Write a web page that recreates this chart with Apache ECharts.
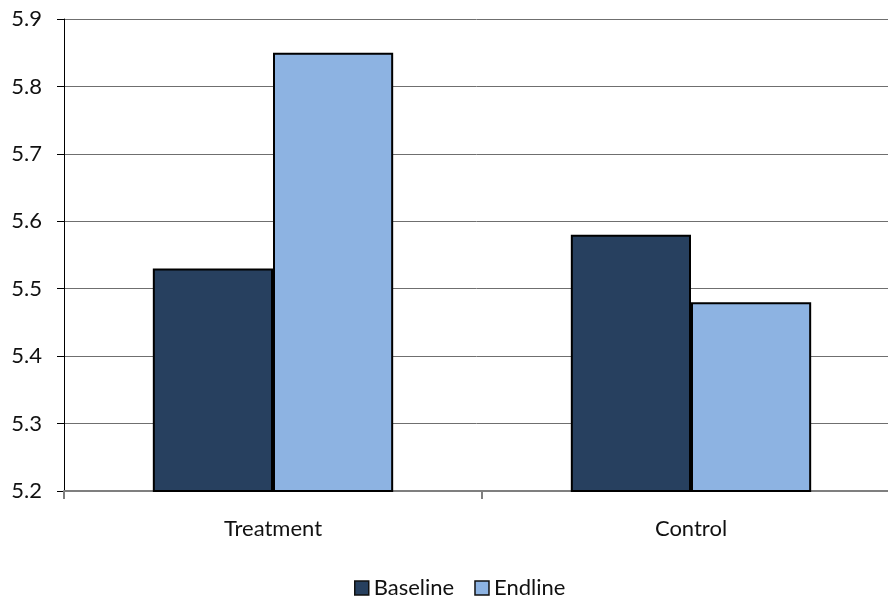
<!DOCTYPE html>
<html>
<head>
<meta charset="utf-8">
<script src="https://cdn.jsdelivr.net/npm/echarts@6/dist/echarts.min.js"></script>
<style>
  html, body { margin: 0; padding: 0; background: #fff; }
  #chart { width: 888px; height: 604px; }
</style>
</head>
<body>
<div id="chart"></div>
<script>
// Group means at baseline and endline
const categories = ['Treatment', 'Control'];
const seriesNames = ['Baseline', 'Endline'];
const baselineValues = [5.53, 5.58];
const endlineValues = [5.85, 5.48];
const yTicks = { min: 5.2, max: 5.9, step: 0.1 };

const fontFamily = 'Lato, "Open Sans", sans-serif';
const colors = ['#27405f', '#8db3e2'];

const chart = echarts.init(document.getElementById('chart'), null, { renderer: 'canvas' });

chart.setOption({
  animation: false,
  backgroundColor: '#ffffff',
  textStyle: { fontFamily: fontFamily },
  // plot area runs slightly past the right edge of the canvas
  grid: {
    left: 64, top: 19, width: 836, bottom: 113,
    containLabel: false,
    outerBoundsMode: 'none'
  },
  legend: {
    bottom: 0,
    left: 349,
    itemWidth: 14,
    itemHeight: 14,
    itemGap: 20,
    icon: 'rect',
    textStyle: { fontSize: 22, color: '#111', fontFamily: fontFamily },
    data: seriesNames.map((n, i) => ({
      name: n,
      itemStyle: { color: colors[i], borderColor: '#111', borderWidth: 1.5 }
    }))
  },
  xAxis: {
    type: 'category',
    data: categories,
    boundaryGap: true,
    axisLine: { show: true, lineStyle: { color: '#7f7f7f', width: 2 } },
    axisTick: { show: true, length: 8, lineStyle: { color: '#7f7f7f', width: 2 } },
    axisLabel: { fontSize: 22, color: '#111', margin: 27 },
    splitLine: { show: false }
  },
  yAxis: {
    type: 'value',
    min: yTicks.min,
    max: yTicks.max,
    interval: yTicks.step,
    axisLine: { show: true, lineStyle: { color: '#000', width: 1 } },
    axisTick: { show: true, length: 7, lineStyle: { color: '#000' } },
    axisLabel: {
      fontSize: 22,
      color: '#111',
      margin: 22,
      formatter: v => v.toFixed(1)
    },
    splitLine: { show: true, lineStyle: { color: '#6f6f6f', width: 1 } }
  },
  series: [
    {
      name: seriesNames[0],
      type: 'bar',
      data: baselineValues,
      barGap: '0%',
      barCategoryGap: '42.5%',
      itemStyle: { color: colors[0], borderColor: '#000', borderWidth: 2 }
    },
    {
      name: seriesNames[1],
      type: 'bar',
      data: endlineValues,
      barGap: '0%',
      barCategoryGap: '42.5%',
      itemStyle: { color: colors[1], borderColor: '#000', borderWidth: 2 }
    }
  ]
});
</script>
</body>
</html>
